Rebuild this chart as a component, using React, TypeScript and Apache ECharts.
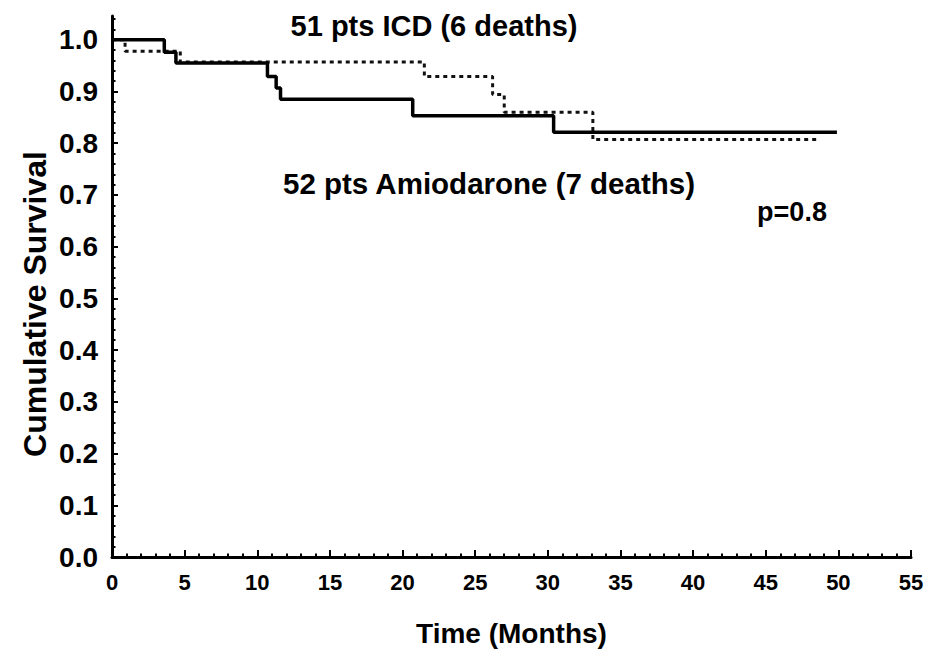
import React, { useEffect, useRef } from "react";
import * as echarts from "echarts";

const icdTimes = [0, 3.6, 4.4, 10.7, 11.3, 11.6, 20.7, 30.4, 49.9];
const icdSurvival = [1.0, 0.976, 0.955, 0.929, 0.907, 0.885, 0.853, 0.821, 0.821];

const amioTimes = [0, 0.9, 4.7, 21.5, 26.2, 27.0, 33.1, 48.7];
const amioSurvival = [1.0, 0.978, 0.957, 0.929, 0.894, 0.86, 0.807, 0.807];

const yMajorTicks = [0, 0.1, 0.2, 0.3, 0.4, 0.5, 0.6, 0.7, 0.8, 0.9, 1.0];
const yMinorTicks = [
  0.02, 0.04, 0.06, 0.08, 0.12, 0.14, 0.16, 0.18, 0.22, 0.24, 0.26, 0.28,
  0.32, 0.34, 0.36, 0.38, 0.42, 0.44, 0.46, 0.48, 0.52, 0.54, 0.56, 0.58,
  0.62, 0.64, 0.66, 0.68, 0.72, 0.74, 0.76, 0.78, 0.82, 0.84, 0.86, 0.88,
  0.92, 0.94, 0.96, 0.98, 1.02, 1.04,
];

const icdLabel = "51 pts ICD (6 deaths)";
const amioLabel = "52 pts Amiodarone (7 deaths)";
const pLabel = "p=0.8";
const xTitle = "Time (Months)";
const yTitle = "Cumulative Survival";

const FONT = "'Liberation Sans', Arial, Helvetica, sans-serif";

export default function App() {
  const ref = useRef<HTMLDivElement>(null);
  useEffect(() => {
    document.body.style.margin = "0";
    if (!ref.current) return;
    const chart = echarts.init(ref.current, null, { renderer: "svg" });
    const zip = (t: number[], s: number[]) => t.map((v, i) => [v, s[i]]);
    chart.setOption({
      animation: false,
      backgroundColor: "#fff",
      grid: { left: 112, right: 25, top: 16, bottom: 92 },
      xAxis: {
        type: "value",
        min: 0,
        max: 55,
        interval: 5,
        name: xTitle,
        nameLocation: "middle",
        nameGap: 62,
        nameTextStyle: { fontFamily: FONT, fontWeight: "bold", fontSize: 28, color: "#000" },
        axisLine: { show: true, lineStyle: { color: "#000", width: 3 } },
        axisTick: { show: true, inside: true, length: 7, lineStyle: { color: "#000", width: 2 } },
        minorTick: { show: true, splitNumber: 5, length: 3.5, lineStyle: { color: "#000", width: 2 } },
        axisLabel: { fontFamily: FONT, fontWeight: "bold", fontSize: 22, color: "#000", margin: 14 },
        splitLine: { show: false },
      },
      yAxis: [
        {
          type: "value",
          min: 0,
          max: 1.046,
          axisLine: { show: true, lineStyle: { color: "#000", width: 3 } },
          axisTick: { show: true, inside: true, length: 6, lineStyle: { color: "#000", width: 2 }, customValues: yMajorTicks },
          axisLabel: {
            customValues: yMajorTicks,
            formatter: (v: number) => v.toFixed(1),
            fontFamily: FONT,
            fontWeight: "bold",
            fontSize: 28,
            color: "#000",
            margin: 14,
          },
          splitLine: { show: false },
        },
        {
          type: "value",
          min: 0,
          max: 1.046,
          position: "left",
          axisLine: { show: false },
          axisTick: { show: true, inside: true, length: 3.5, lineStyle: { color: "#000", width: 2 }, customValues: yMinorTicks },
          axisLabel: { show: false },
          splitLine: { show: false },
        },
      ],
      series: [
        {
          name: "Amiodarone",
          type: "line",
          step: "end",
          showSymbol: false,
          data: zip(amioTimes, amioSurvival),
          lineStyle: { color: "#111", width: 3, type: [4, 4] },
          z: 2,
        },
        {
          name: "ICD",
          type: "line",
          step: "end",
          showSymbol: false,
          data: zip(icdTimes, icdSurvival),
          lineStyle: { color: "#000", width: 3.5 },
          z: 3,
        },
      ],
      graphic: [
        {
          type: "text",
          x: 35,
          y: 304,
          rotation: Math.PI / 2,
          style: { text: yTitle, fontFamily: FONT, fontWeight: "bold", fontSize: 32, fill: "#000", align: "center", verticalAlign: "middle" },
        },
        {
          type: "text",
          x: 434,
          y: 26,
          style: { text: icdLabel, fontFamily: FONT, fontWeight: "bold", fontSize: 29, fill: "#000", align: "center", verticalAlign: "middle" },
        },
        {
          type: "text",
          x: 489,
          y: 183,
          style: { text: amioLabel, fontFamily: FONT, fontWeight: "bold", fontSize: 29.5, fill: "#000", align: "center", verticalAlign: "middle" },
        },
        {
          type: "text",
          x: 792,
          y: 212,
          style: { text: pLabel, fontFamily: FONT, fontWeight: "bold", fontSize: 27, fill: "#000", align: "center", verticalAlign: "middle" },
        },
      ],
    });
    return () => chart.dispose();
  }, []);
  return <div ref={ref} style={{ width: 936, height: 652 }} />;
}
